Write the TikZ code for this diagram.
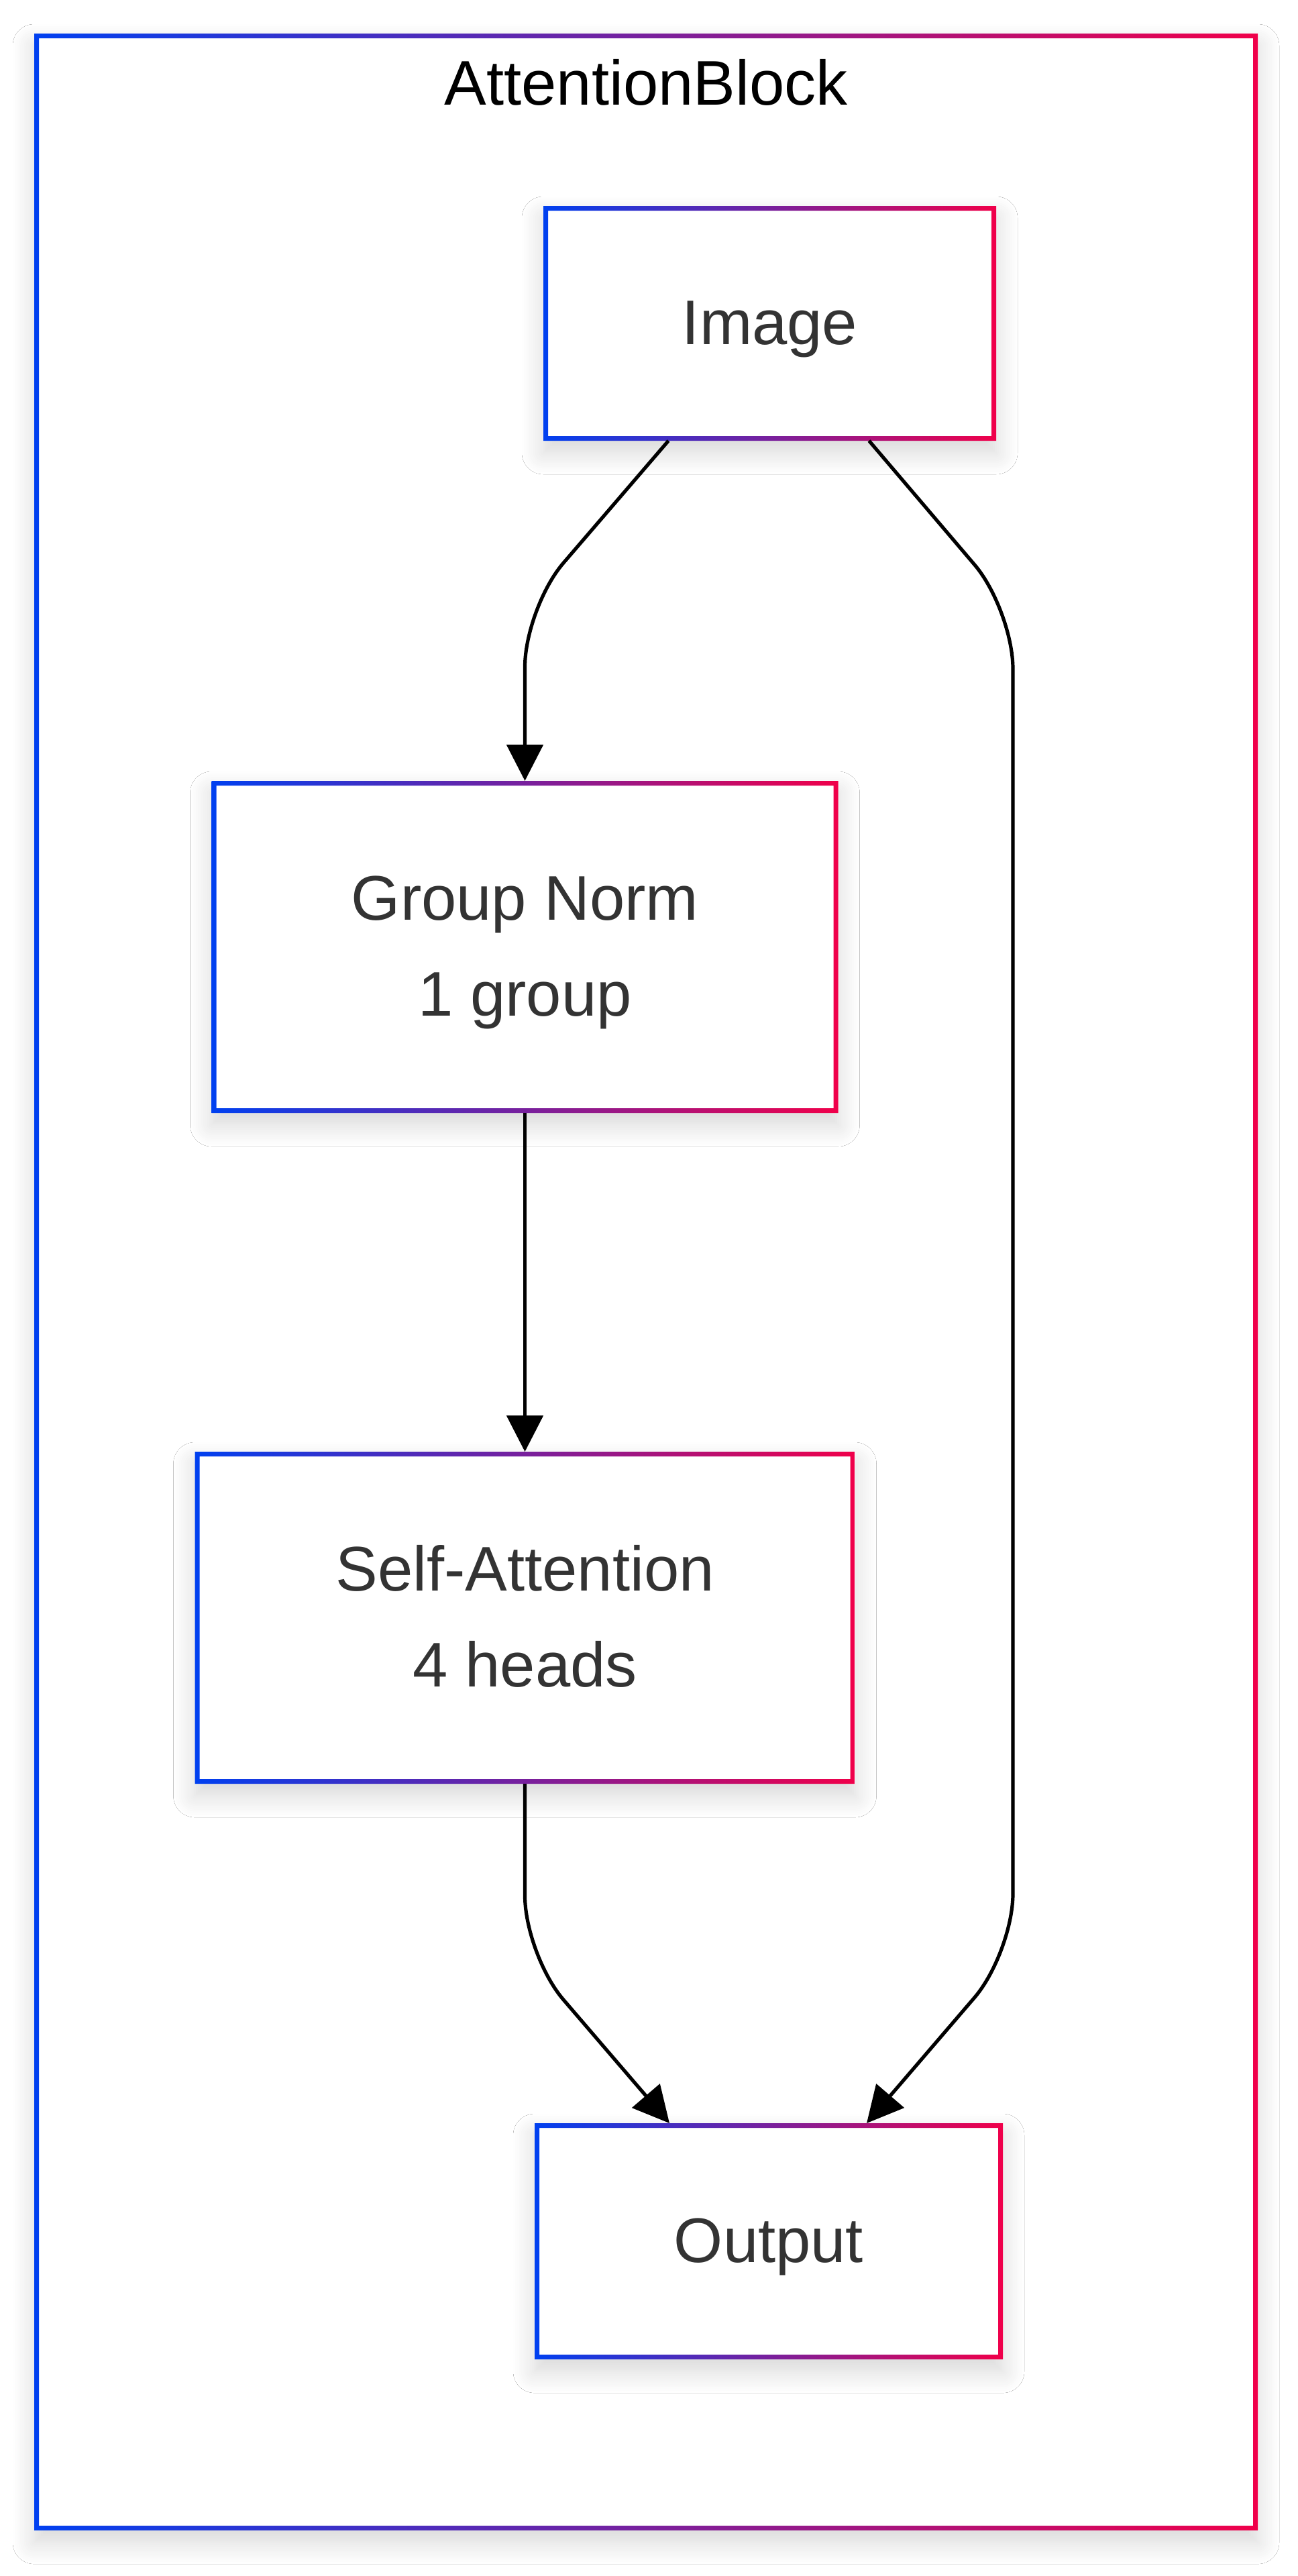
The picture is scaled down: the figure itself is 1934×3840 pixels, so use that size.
\documentclass[tikz,border=0pt]{standalone}
\usepackage{fontspec}
\setmainfont{Liberation Sans}
\usetikzlibrary{arrows.meta,calc,shadows.blur}
\definecolor{gblue}{RGB}{0,64,240}
\definecolor{gred}{RGB}{240,0,74}
\definecolor{txt}{RGB}{51,51,51}
\newcommand{\gradframe}[1]{\shade[left color=gblue,right color=gred,even odd rule] (#1.north west) rectangle (#1.south east) ($(#1.north west)+(7,7)$) rectangle ($(#1.south east)+(-7,-7)$);}
\newcommand{\lstr}{\rule[-13.5pt]{0pt}{58.5pt}}
\begin{document}
\begin{tikzpicture}[x=0.5pt,y=-0.5pt,
  softshadow/.style={blur shadow={shadow xshift=0pt,shadow yshift=-9pt,shadow blur radius=16pt,shadow blur steps=12,shadow opacity=16}},
  boxnode/.style={rectangle, fill=white, inner sep=0pt, outer sep=0pt, align=center, text=txt,
    font=\fontsize{47}{71.5}\selectfont, softshadow},
  framenode/.style={rectangle, fill=white, inner sep=0pt, outer sep=0pt, softshadow},
  titletext/.style={font=\fontsize{47}{56}\selectfont, text=black, inner sep=0pt, anchor=base},
  flowline/.style={draw=black, line width=2.6pt, rounded corners=44pt, -{Triangle[length=27pt,width=27pt]}}]
\useasboundingbox (0,0) rectangle (1934,3840);
\fill[white] (0,0) rectangle (1934,3840);
% outer frame
\node[framenode, minimum width=912pt, minimum height=1861pt] (frame) at (963,1911) {};
\gradframe{frame}
\node[titletext] (title) at (963,156) {AttentionBlock};
% boxes
\node[boxnode, minimum width=337.5pt, minimum height=175pt] (img) at (1147.5,482) {\lstr Image};
\node[boxnode, minimum width=467pt, minimum height=247.5pt] (gn) at (782.5,1411.5) {\lstr Group Norm\\\lstr 1 group};
\node[boxnode, minimum width=492pt, minimum height=247.5pt] (sa) at (782.5,2411.5) {\lstr Self-Attention\\\lstr 4 heads};
\node[boxnode, minimum width=349pt, minimum height=176pt] (out) at (1146,3341) {\lstr Output};
\gradframe{img}
\gradframe{gn}
\gradframe{sa}
\gradframe{out}
% bend points
\coordinate (b1) at (782.5,906);
\coordinate (b2) at (1510,909);
\coordinate (b3) at (1510,2911);
\coordinate (b4) at (782.5,2914);
% connectors
\draw[flowline] ($(img.south)+(-151,0)$) -- (b1) -- (gn.north);
\draw[flowline] ($(img.south)+(148,0)$) -- (b2) -- (b3) -- ($(out.north)+(146,0)$);
\draw[flowline] (gn.south) -- (sa.north);
\draw[flowline] (sa.south) -- (b4) -- ($(out.north)+(-148,0)$);
\end{tikzpicture}
\end{document}
